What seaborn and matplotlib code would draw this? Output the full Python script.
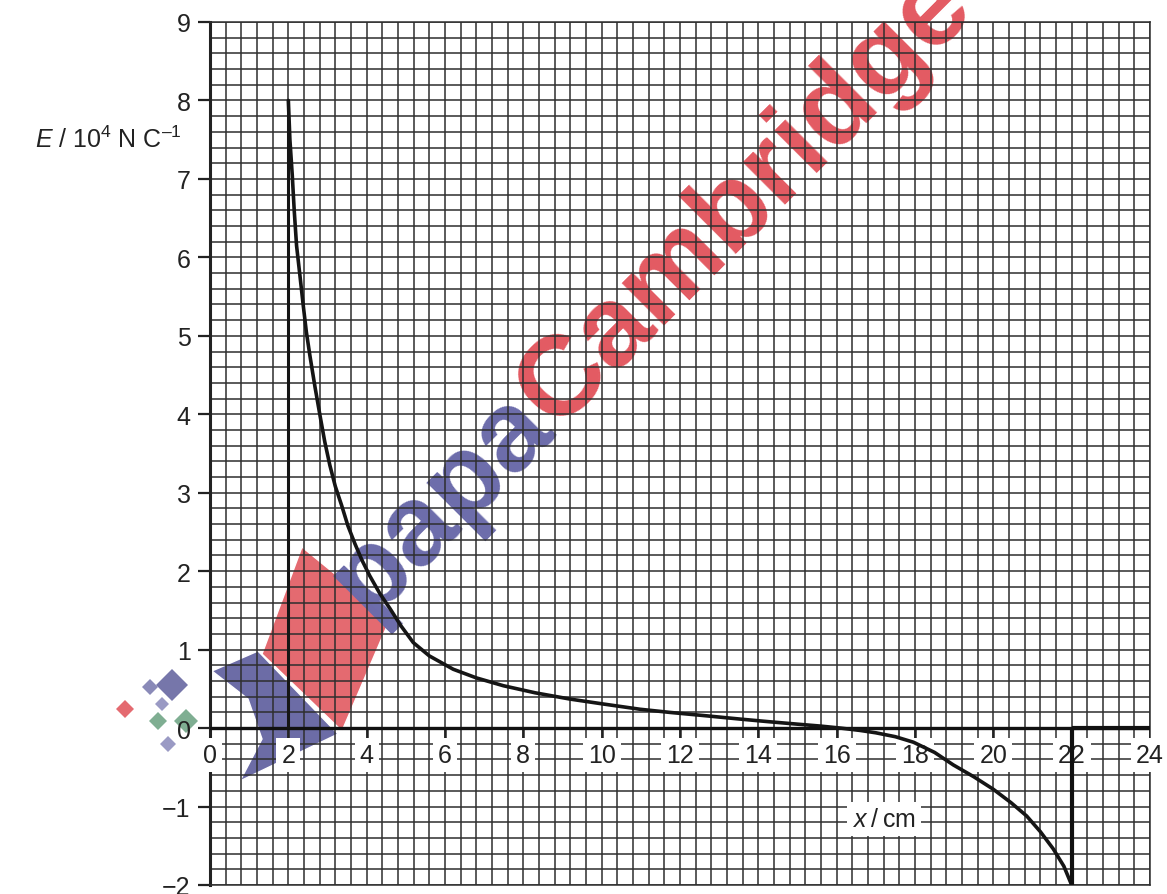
import matplotlib
matplotlib.use("Agg")
import matplotlib.pyplot as plt
import seaborn as sns
import numpy as np
import pandas as pd
from matplotlib.patches import Polygon

# ---- data ----
curve_x = [2.0, 2.04, 2.1, 2.15, 2.21, 2.3, 2.38, 2.46, 2.55, 2.68, 2.81, 2.93, 3.06,
           3.2, 3.36, 3.52, 3.7, 3.88, 4.08, 4.33, 4.6, 4.88, 5.19, 5.6, 6.21, 6.8,
           7.49, 8.3, 9.19, 10.0, 10.98, 11.74, 12.6, 13.53, 14.3, 15.0, 15.6, 16.1,
           16.6, 17.0, 17.5, 17.96, 18.5, 18.98, 19.5, 20.0, 20.45, 20.85, 21.2,
           21.53, 21.8, 22.0]
curve_E = [8.0, 7.5, 7.05, 6.6, 6.15, 5.75, 5.39, 5.05, 4.75, 4.35, 3.98, 3.65, 3.35,
           3.08, 2.84, 2.58, 2.35, 2.14, 1.94, 1.72, 1.52, 1.3, 1.09, 0.92, 0.75, 0.64,
           0.54, 0.45, 0.37, 0.31, 0.24, 0.20, 0.16, 0.115, 0.08, 0.05, 0.025, 0.0,
           -0.03, -0.06, -0.11, -0.18, -0.31, -0.47, -0.62, -0.78, -0.95, -1.12, -1.32,
           -1.54, -1.76, -2.0]
x_ticks = [0, 2, 4, 6, 8, 10, 12, 14, 16, 18, 20, 22, 24]
y_ticks = [-2, -1, 0, 1, 2, 3, 4, 5, 6, 7, 8, 9]
y_tick_labels = ["\u22122", "\u22121", "0", "1", "2", "3", "4", "5", "6", "7", "8", "9"]
x_label = "$x$\u2009/\u2009cm"
y_label = "$E$ / 10$^4$ N C$^{\u20131}$"
watermark_a = "papa"
watermark_b = "Cambridge"

sns.set_theme(style="white")
plt.rcParams["font.family"] = ["Liberation Sans", "DejaVu Sans"]
plt.rcParams["mathtext.fontset"] = "custom"
plt.rcParams["mathtext.rm"] = "Liberation Sans"
plt.rcParams["mathtext.it"] = "Liberation Sans:italic"

fig = plt.figure(figsize=(11.67, 8.95), dpi=100)
fig.patch.set_facecolor("white")
ax = fig.add_axes([210 / 1167, 1 - 886 / 895, 940 / 1167, 863 / 895])
ax.set_facecolor("none")
ax.set_zorder(2)
ax.set_xlim(0, 24)
ax.set_ylim(-2, 9)

grid_c = "#2e2e2e"
ax.set_xticks(np.arange(0, 24.01, 0.4), minor=True)
ax.set_yticks(np.arange(-2, 9.01, 0.2), minor=True)
ax.set_xticks(x_ticks)
ax.set_xticklabels([])
ax.set_yticks(y_ticks)
ax.set_yticklabels(y_tick_labels, fontsize=18, color="#222222")
ax.grid(which="both", color=grid_c, linewidth=1.1, zorder=0)
ax.set_axisbelow(True)
ax.tick_params(axis="x", which="both", length=0)
ax.tick_params(axis="y", which="minor", length=0)
ax.tick_params(axis="y", which="major", length=9, width=1.6, color="#222222",
               pad=5, left=True, direction="out")
for s in ["top", "right", "bottom"]:
    ax.spines[s].set_color(grid_c)
    ax.spines[s].set_linewidth(1.1)
ax.spines["left"].set_color("#222222")
ax.spines["left"].set_linewidth(2.2)

# watermark (behind the grid)
wm_blue = "#6c6cab"
wm_red = "#e35a62"
fig.text(0.476, 0.52, watermark_a, fontsize=82, fontweight="bold", color=wm_blue,
         rotation=45, rotation_mode="anchor", ha="right", va="baseline", zorder=0)
fig.text(0.476, 0.52, watermark_b, fontsize=82, fontweight="bold", color=wm_red,
         rotation=45, rotation_mode="anchor", ha="left", va="baseline", zorder=0)
px = lambda x, y: (x / 1167, 1 - y / 895)
red = Polygon([px(302, 548), px(390, 620), px(342, 732), px(262, 655)], closed=True,
              transform=fig.transFigure, facecolor="#e46a70", zorder=0)
blue = Polygon([px(212, 672), px(258, 652), px(338, 735), px(240, 782), px(262, 740),
                px(248, 700)], closed=True, transform=fig.transFigure,
               facecolor="#6c6ca6", zorder=0)
fig.patches.extend([red, blue])
dots = [(125, 710, "#e46a70", 9), (150, 688, "#8a8ab8", 8), (172, 686, "#7676aa", 16),
        (162, 705, "#9a9ac4", 7), (158, 722, "#7fae92", 9), (186, 722, "#7fae92", 12),
        (168, 745, "#9a9ac4", 8)]
for dx, dy, dc, ds in dots:
    fig.lines.append(plt.Line2D([dx / 1167], [1 - dy / 895], marker="D", markersize=ds,
                                color=dc, markeredgewidth=0, transform=fig.transFigure,
                                zorder=0))

# axis line at zero and tick marks
ax.axhline(0, color="#111111", linewidth=2.4, zorder=4)
ax.vlines(x_ticks, -0.13, 0, color="#222222", linewidth=1.8, zorder=3)

# x tick labels with white boxes
for xv in x_ticks:
    ax.text(xv, -0.34, str(xv), fontsize=18, color="#222222", ha="center", va="center",
            zorder=3, clip_on=False,
            bbox=dict(boxstyle="square,pad=0.2", facecolor="white", edgecolor="none"))

ax.text(17.2, -1.16, x_label, fontsize=18, color="#222222", ha="center", va="center",
        zorder=3, bbox=dict(boxstyle="square,pad=0.2", facecolor="white", edgecolor="none"))
fig.text(35 / 1167, 1 - 140 / 895, y_label, fontsize=18, color="#222222", ha="left",
         va="center")

# curve
df = pd.DataFrame({"x": curve_x, "E": curve_E})
sns.lineplot(data=df, x="x", y="E", sort=False, estimator=None, color="#151515",
             linewidth=2.6, ax=ax, zorder=5)
ax.vlines(curve_x[0], 0, curve_E[0], color="#151515", linewidth=2.2, zorder=5)
ax.vlines(curve_x[-1], curve_E[-1], 0, color="#111111", linewidth=3.0, zorder=5)
ax.hlines(0, curve_x[-1], 24, color="#111111", linewidth=3.0, zorder=5)
ax.set_xlabel("")
ax.set_ylabel("")

fig.savefig("out.png", dpi=100)
